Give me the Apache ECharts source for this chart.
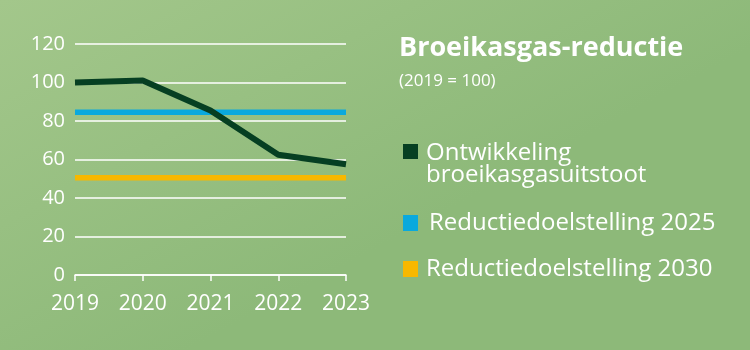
<!DOCTYPE html>
<html>
<head>
<meta charset="utf-8">
<script src="https://cdn.jsdelivr.net/npm/echarts@6/dist/echarts.min.js"></script>
<style>
  html, body { margin: 0; padding: 0; }
  #chart { width: 750px; height: 350px; }
</style>
</head>
<body>
<div id="chart"></div>
<script>
// Greenhouse gas emissions index (2019 = 100) and reduction targets
const years = ['2019', '2020', '2021', '2022', '2023'];
const emissions = [100, 101, 85.5, 62.5, 57.5];
const target2025 = [84.5, 84.5, 84.5, 84.5, 84.5];
const target2030 = [50.5, 50.5, 50.5, 50.5, 50.5];
const yTicks = [0, 20, 40, 60, 80, 100, 120];

const seriesNames = ['Ontwikkeling\nbroeikasgasuitstoot', 'Reductiedoelstelling 2025', 'Reductiedoelstelling 2030'];
const colors = ['#063f22', '#0aa9dd', '#f7b800'];

const FONT = '"Open Sans", sans-serif';
const chart = echarts.init(document.getElementById('chart'), null, { renderer: 'canvas' });

// square swatch drawn in the upper part of a taller icon box, so a
// two-line label lines up with the swatch on its first line
const topSquare = 'path://M0,0L15,0L15,15L0,15Z M0,40L0.01,40L0,40Z';

function legendFor(i, top, gap, icon, h) {
  return {
    data: [seriesNames[i]],
    orient: 'vertical',
    left: 403,
    top: top,
    icon: icon,
    itemWidth: 15,
    itemHeight: h,
    itemGap: 0,
    padding: 0,
    selectedMode: false,
    textStyle: {
      color: '#ffffff',
      fontFamily: FONT,
      fontSize: 24,
      lineHeight: 22,
      padding: [0, 0, 0, gap]
    }
  };
}

chart.setOption({
  backgroundColor: new echarts.graphic.LinearGradient(0, 0, 0.25, 1, [
    { offset: 0, color: '#a3c78b' },
    { offset: 1, color: '#8db979' }
  ]),
  animation: false,
  title: {
    text: 'Broeikasgas-reductie',
    subtext: '(2019 = 100)',
    left: 399,
    top: 35,
    itemGap: 11,
    padding: 0,
    textStyle: { color: '#ffffff', fontFamily: FONT, fontSize: 27, fontWeight: 'bold' },
    subtextStyle: { color: '#ffffff', fontFamily: FONT, fontSize: 17 }
  },
  legend: [
    legendFor(0, 141, 3, topSquare, 40),
    legendFor(1, 211, 6, 'rect', 16),
    legendFor(2, 257, 3, 'rect', 16)
  ],
  grid: { left: 75, right: 404, top: 44, bottom: 75 },
  xAxis: {
    type: 'category',
    data: years,
    boundaryGap: false,
    axisLine: { show: true, lineStyle: { color: '#ffffff', width: 1.5 } },
    axisTick: { show: true, length: 6, lineStyle: { color: '#ffffff', width: 1.5 } },
    axisLabel: { color: '#ffffff', fontFamily: FONT, fontSize: 21, margin: 19 },
    splitLine: { show: false }
  },
  yAxis: {
    type: 'value',
    min: yTicks[0],
    max: yTicks[yTicks.length - 1],
    interval: 20,
    axisLine: { show: false },
    axisTick: { show: false },
    axisLabel: { color: '#ffffff', fontFamily: FONT, fontSize: 20, margin: 10 },
    splitLine: { lineStyle: { color: '#ffffff', width: 1.5 } }
  },
  series: [
    {
      name: seriesNames[1], type: 'line', data: target2025, symbol: 'none', z: 2,
      lineStyle: { color: colors[1], width: 5.5 }, itemStyle: { color: colors[1] }
    },
    {
      name: seriesNames[2], type: 'line', data: target2030, symbol: 'none', z: 2,
      lineStyle: { color: colors[2], width: 5.5 }, itemStyle: { color: colors[2] }
    },
    {
      name: seriesNames[0], type: 'line', data: emissions, symbol: 'none', z: 3,
      lineStyle: { color: colors[0], width: 6, join: 'round' }, itemStyle: { color: colors[0] }
    }
  ]
});
</script>
</body>
</html>
